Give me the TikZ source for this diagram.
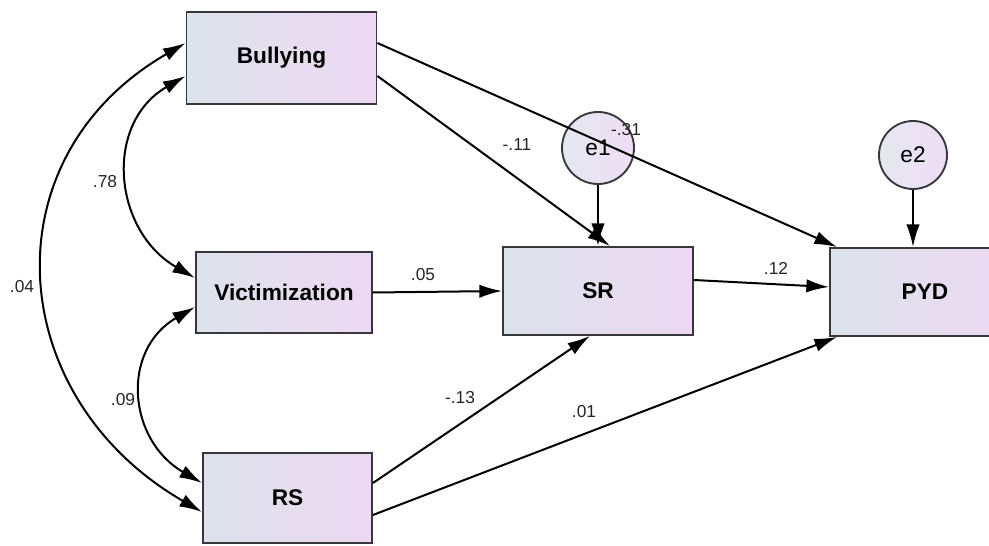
\documentclass[tikz,border=0pt]{standalone}
\usepackage{fontspec}
\setmainfont{Liberation Sans}
\usetikzlibrary{arrows.meta}

\definecolor{boxleft}{RGB}{221,227,235}
\definecolor{boxright}{RGB}{237,217,243}
\definecolor{boxline}{RGB}{55,55,60}

\tikzset{
    var/.style={draw=boxline, line width=1.4pt, left color=boxleft, right color=boxright,
        inner sep=0pt, font=\fontsize{17pt}{20pt}\selectfont\bfseries},
    err/.style={circle, draw=boxline, line width=1.4pt, left color=boxleft!80!white,
        right color=boxright!90!white, inner sep=0pt, font=\fontsize{17pt}{20pt}\selectfont},
    path/.style={line width=1.5pt, -{Latex[length=17pt,width=10pt]}},
    cov/.style={line width=1.5pt, {Latex[length=17pt,width=10pt]}-{Latex[length=17pt,width=10pt]}},
    coef/.style={font=\fontsize{13pt}{15pt}\selectfont, text=black!85, inner sep=0pt}
}

\begin{document}
\begin{tikzpicture}[x=0.75pt, y=0.75pt]
    \useasboundingbox (0,0) rectangle (989,-546);

    % observed variables
    \node[var, minimum width=142.5pt, minimum height=69pt]    (bully) at (281.5,-58) {Bullying};
    \node[var, minimum width=132pt,   minimum height=60.75pt] (victim) at (284,-292.5) {Victimization};
    \node[var, minimum width=126.75pt,minimum height=67.5pt]  (rs)    at (287.5,-498) {RS};
    \node[var, minimum width=142.5pt, minimum height=66pt]    (sr)    at (598,-291) {SR};
    \node[var, minimum width=142.5pt, minimum height=66pt]    (pyd)   at (925,-292) {PYD};

    % residuals
    \node[err, minimum size=54pt] (e1) at (598,-148) {e1};
    \node[err, minimum size=51pt] (e2) at (913,-155) {e2};

    % regressions
    \draw[path] ([yshift=11.25pt]bully.east) -- ([xshift=6pt]pyd.north west);
    \draw[path] ([yshift=-13.5pt]bully.east) -- ([xshift=9pt]sr.north);
    \draw[path] (e1.south) -- (e1.south |- sr.north);
    \draw[path] (e2.south) -- (e2.south |- pyd.north);
    \draw[path] (victim.east) -- (sr.west);
    \draw[path] ([yshift=8.25pt]sr.east) -- ([yshift=3.75pt]pyd.west);
    \draw[path] ([yshift=11.25pt]rs.east) -- ([xshift=-6pt]sr.south);
    \draw[path] ([yshift=-12.75pt]rs.east) -- ([xshift=6pt]pyd.south west);

    % covariances
    \draw[cov] ([yshift=11.25pt]bully.west) to[out=210, in=150, looseness=1.25] ([yshift=-10.5pt]rs.west);
    \draw[cov] ([yshift=-13.5pt]bully.west) to[out=210, in=150, looseness=1.2] ([yshift=10.9pt]victim.west);
    \draw[cov] ([yshift=-10.9pt]victim.west) to[out=210, in=150, looseness=1.25] ([yshift=11.25pt]rs.west);

    % estimates
    \node[coef] (c78) at (105,-182) {.78};
    \node[coef] (c04) at (22,-287) {.04};
    \node[coef] (c09) at (123,-400) {.09};
    \node[coef] (c11) at (517,-145) {-.11};
    \node[coef] (c31) at (626,-130) {-.31};
    \node[coef] (c05) at (423,-275) {.05};
    \node[coef] (c12) at (776,-268) {.12};
    \node[coef] (c13) at (460,-398) {-.13};
    \node[coef] (c01) at (584,-412) {.01};
\end{tikzpicture}
\end{document}
